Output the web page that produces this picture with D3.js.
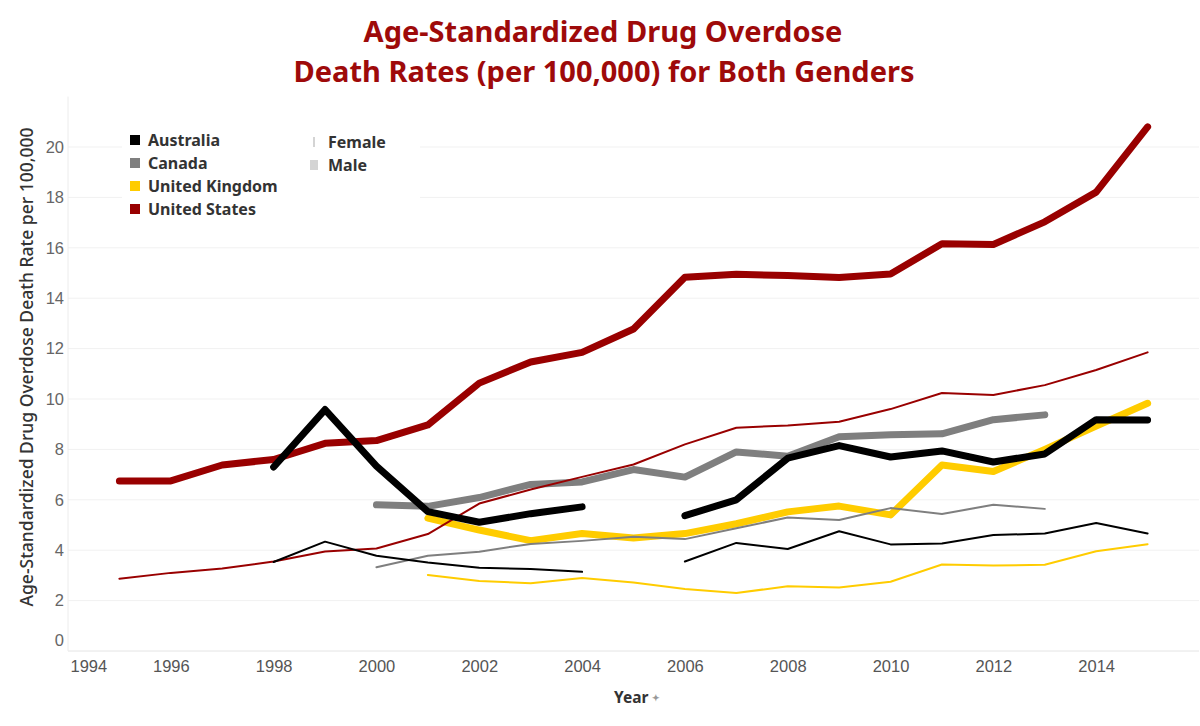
<!DOCTYPE html>
<html>
<head>
<meta charset="utf-8">
<script src="https://cdn.jsdelivr.net/npm/d3@7"></script>
<style>
  body { margin: 0; background: #fff; }
  svg { display: block; font-family: "Noto Sans", "Open Sans", sans-serif; }
</style>
</head>
<body>
<svg id="chart" width="1200" height="726"></svg>
<script>
// years on the x axis
const years = [1995, 1996, 1997, 1998, 1999, 2000, 2001, 2002, 2003, 2004, 2005,
               2006, 2007, 2008, 2009, 2010, 2011, 2012, 2013, 2014, 2015];

// rates per 100,000, null = no data for that year
const usMale    = [6.75, 6.75, 7.38, 7.6, 8.24, 8.35, 8.97, 10.63, 11.47, 11.85, 12.78,
                   14.83, 14.95, 14.9, 14.82, 14.96, 16.16, 16.13, 17.03, 18.21, 20.8];
const usFemale  = [2.87, 3.1, 3.27, 3.55, 3.95, 4.07, 4.64, 5.85, 6.41, 6.91, 7.4,
                   8.2, 8.86, 8.95, 9.1, 9.6, 10.24, 10.16, 10.55, 11.15, 11.85];
const ausMale   = [null, null, null, 7.3, 9.58, 7.34, 5.53, 5.11, 5.45, 5.72, null,
                   5.37, 6.0, 7.65, 8.15, 7.7, 7.94, 7.5, 7.82, 9.18, 9.17];
const ausFemale = [null, null, null, 3.53, 4.34, 3.78, 3.51, 3.3, 3.25, 3.14, null,
                   3.55, 4.29, 4.05, 4.75, 4.23, 4.27, 4.6, 4.66, 5.08, 4.66];
const canMale   = [null, null, null, null, null, 5.8, 5.74, 6.09, 6.61, 6.71, 7.2,
                   6.9, 7.9, 7.73, 8.5, 8.58, 8.62, 9.18, 9.37, null, null];
const canFemale = [null, null, null, null, null, 3.32, 3.78, 3.94, 4.25, 4.37, 4.53,
                   4.44, 4.87, 5.3, 5.2, 5.67, 5.44, 5.8, 5.64, null, null];
const ukMale    = [null, null, null, null, null, null, 5.27, 4.8, 4.38, 4.66, 4.48,
                   4.66, 5.05, 5.52, 5.75, 5.4, 7.38, 7.12, 8.0, 8.93, 9.83];
const ukFemale  = [null, null, null, null, null, null, 3.02, 2.78, 2.69, 2.9, 2.72,
                   2.46, 2.3, 2.57, 2.52, 2.75, 3.43, 3.39, 3.42, 3.96, 4.24];

// legend entries and tick labels
const countries = ["Australia", "Canada", "United Kingdom", "United States"];
const genders = ["Female", "Male"];
const yTicks = [0, 2, 4, 6, 8, 10, 12, 14, 16, 18, 20];
const xTicks = [1994, 1996, 1998, 2000, 2002, 2004, 2006, 2008, 2010, 2012, 2014];

const colors = {
  "Australia": "#000000",
  "Canada": "#7f7f7f",
  "United Kingdom": "#ffcc00",
  "United States": "#990000"
};

// series in drawing order (Australia on top)
const series = [
  { country: "United Kingdom", gender: "Female", values: ukFemale },
  { country: "United Kingdom", gender: "Male", values: ukMale },
  { country: "Canada", gender: "Female", values: canFemale },
  { country: "Canada", gender: "Male", values: canMale },
  { country: "United States", gender: "Female", values: usFemale },
  { country: "United States", gender: "Male", values: usMale },
  { country: "Australia", gender: "Female", values: ausFemale },
  { country: "Australia", gender: "Male", values: ausMale }
];

const svg = d3.select("#chart");
const plotLeft = 68, plotRight = 1199, plotTop = 96.6, plotBottom = 651;

const x = d3.scaleLinear().domain([1994, 2016]).range([plotLeft, plotRight]);
const y = d3.scaleLinear().domain([0, 22]).range([plotBottom, plotTop]);

// titre
svg.append("text")
  .attr("x", 603).attr("y", 42)
  .attr("text-anchor", "middle")
  .style("font-size", "29px").style("font-weight", 700)
  .attr("fill", "#9e0a0a")
  .text("Age-Standardized Drug Overdose");
svg.append("text")
  .attr("x", 604).attr("y", 82)
  .attr("text-anchor", "middle")
  .style("font-size", "29px").style("font-weight", 700)
  .attr("fill", "#9e0a0a")
  .text("Death Rates (per 100,000) for Both Genders");

// grille
svg.append("g")
  .selectAll("line")
  .data(yTicks)
  .enter().append("line")
  .attr("x1", plotLeft).attr("x2", plotRight)
  .attr("y1", d => y(d)).attr("y2", d => y(d))
  .attr("stroke", d => d === 0 ? "#e4e4e4" : "#f1f1f1")
  .attr("stroke-width", 1);

svg.append("line")
  .attr("x1", plotLeft).attr("x2", plotLeft)
  .attr("y1", plotTop).attr("y2", plotBottom)
  .attr("stroke", "#ececec");

// axes
const yAxis = svg.append("g")
  .attr("transform", `translate(${plotLeft},0)`)
  .call(d3.axisLeft(y).tickValues(yTicks).tickSize(0).tickPadding(4));
yAxis.select(".domain").remove();
yAxis.selectAll("text")
  .style("font-size", "16.5px").attr("fill", "#666")
  .filter(d => d === 0).attr("dy", "-0.35em");

const xAxis = svg.append("g")
  .attr("transform", `translate(0,${plotBottom})`)
  .call(d3.axisBottom(x).tickValues(xTicks).tickFormat(d3.format("d")).tickSize(0).tickPadding(9));
xAxis.select(".domain").remove();
xAxis.selectAll("text")
  .style("font-size", "16.5px").attr("fill", "#555")
  .filter(d => d === 1994).attr("text-anchor", "start").attr("x", 2);

svg.append("text")
  .attr("transform", "translate(33,367) rotate(-90)")
  .attr("text-anchor", "middle")
  .style("font-size", "17.5px").style("font-weight", 500)
  .attr("fill", "#333")
  .text("Age-Standardized Drug Overdose Death Rate per 100,000");

svg.append("text")
  .attr("x", 614).attr("y", 703)
  .style("font-size", "15.5px").style("font-weight", 700)
  .attr("fill", "#333")
  .text("Year")
  .append("tspan")
  .attr("dx", 4).attr("dy", -2)
  .style("font-size", "9px").attr("fill", "#999")
  .text("✦");

// lignes
const line = d3.line()
  .defined(d => d != null)
  .x((d, i) => x(years[i]))
  .y(d => y(d));

svg.append("g")
  .selectAll("path")
  .data(series)
  .enter().append("path")
  .attr("d", d => line(d.values))
  .attr("fill", "none")
  .attr("stroke", d => colors[d.country])
  .attr("stroke-width", d => d.gender === "Male" ? 7 : 2)
  .attr("stroke-linejoin", "round")
  .attr("stroke-linecap", "round");

// légende
const legend = svg.append("g");
legend.append("rect")
  .attr("x", 122).attr("y", 124).attr("width", 298).attr("height", 98)
  .attr("fill", "#fff");

const rows = legend.selectAll(".country")
  .data(countries)
  .enter().append("g")
  .attr("class", "country")
  .attr("transform", (d, i) => `translate(130,${140 + i * 23})`);
rows.append("rect")
  .attr("x", 0).attr("y", -5).attr("width", 10).attr("height", 10)
  .attr("fill", d => colors[d]);
rows.append("text")
  .attr("x", 18).attr("y", 5.5)
  .style("font-size", "16px").style("font-weight", 700)
  .attr("fill", "#333")
  .text(d => d);

const gRows = legend.selectAll(".gender")
  .data(genders)
  .enter().append("g")
  .attr("class", "gender")
  .attr("transform", (d, i) => `translate(310,${142 + i * 23})`);
gRows.append("rect")
  .attr("x", d => d === "Female" ? 3 : 0)
  .attr("y", -5)
  .attr("width", d => d === "Female" ? 2 : 8)
  .attr("height", 10)
  .attr("fill", "#d4d4d4");
gRows.append("text")
  .attr("x", 18).attr("y", 5.5)
  .style("font-size", "16px").style("font-weight", 700)
  .attr("fill", "#333")
  .text(d => d);
</script>
</body>
</html>
